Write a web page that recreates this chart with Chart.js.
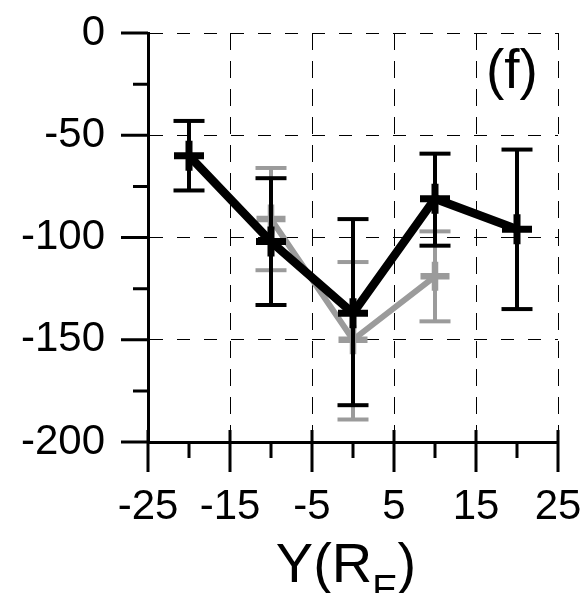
<!DOCTYPE html>
<html>
<head>
<meta charset="utf-8">
<script src="https://cdn.jsdelivr.net/npm/chart.js"></script>
<style>
  html, body { margin: 0; padding: 0; background: #fff; }
  canvas { display: block; }
</style>
</head>
<body>
<canvas id="canva" width="586" height="593"></canvas>
<script>
// positions along Y (R_E)
const xBlack = [-20, -10, 0, 10, 20];
const yBlack = [-60, -102, -137, -81, -96];
const blackHi = [-43, -71, -91, -59, -57];
const blackLo = [-77, -133, -182, -104, -135];

const xGray = [-10, 0, 10];
const yGray = [-91, -150, -119];
const grayHi = [-66, -112, -97];
const grayLo = [-116, -189, -141];

const xTicks = [-25, -15, -5, 5, 15, 25];
const yTicks = [0, -50, -100, -150, -200];

const BLACK = "#000000";
const GRAY = "#9b9b9b";
const FONT = "'Liberation Sans', Arial, sans-serif";

function pts(xs, ys) {
  return xs.map((x, i) => ({ x: x, y: ys[i] }));
}

function errorSets(xs, lo, hi, color, order) {
  return xs.map((x, i) => ({
    data: [{ x: x, y: lo[i] }, { x: x, y: hi[i] }],
    showLine: true,
    borderColor: color,
    borderWidth: 4,
    borderCapStyle: "butt",
    pointStyle: "line",
    pointRadius: 15.5,
    pointBorderWidth: 4,
    pointBorderColor: color,
    pointBackgroundColor: color,
    order: order,
  }));
}

// extra drawing: tick marks (major + minor), panel tag and axis title
const decor = {
  id: "decor",
  afterDraw(chart) {
    const ctx = chart.ctx;
    const xs = chart.scales.x;
    const ys = chart.scales.y;
    const a = chart.chartArea;
    ctx.save();
    ctx.strokeStyle = BLACK;
    ctx.lineWidth = 3;
    ctx.lineCap = "butt";
    ctx.beginPath();
    for (let v = -200; v <= 0; v += 25) {
      const py = ys.getPixelForValue(v);
      const len = v % 50 === 0 ? 27 : 15;
      ctx.moveTo(a.left - len, py);
      ctx.lineTo(a.left, py);
    }
    for (let v = -25; v <= 25; v += 5) {
      const px = xs.getPixelForValue(v);
      if ((v + 25) % 10 === 0) {
        ctx.moveTo(px, a.bottom - 12);
        ctx.lineTo(px, a.bottom + 30);
      } else {
        ctx.moveTo(px, a.bottom);
        ctx.lineTo(px, a.bottom + 16);
      }
    }
    ctx.stroke();

    ctx.fillStyle = BLACK;
    ctx.textBaseline = "alphabetic";
    ctx.textAlign = "left";
    ctx.font = "55px " + FONT;
    ctx.fillText("(f)", 486, 88);

    // Y(R_E)
    const big = "56px " + FONT;
    const small = "38px " + FONT;
    ctx.font = big;
    const w1 = ctx.measureText("Y(R").width;
    const w3 = ctx.measureText(")").width;
    ctx.font = small;
    const w2 = ctx.measureText("E").width;
    let x0 = 346 - (w1 + w2 + w3) / 2;
    const base = 582;
    ctx.font = big;
    ctx.fillText("Y(R", x0, base);
    ctx.font = small;
    ctx.fillText("E", x0 + w1, base + 20);
    ctx.font = big;
    ctx.fillText(")", x0 + w1 + w2, base);
    ctx.restore();
  },
};

const datasets = [
  {
    data: pts(xBlack, yBlack),
    showLine: true,
    borderColor: BLACK,
    borderWidth: 8.5,
    borderJoinStyle: "miter",
    pointStyle: "cross",
    pointRadius: 15,
    pointBorderWidth: 7,
    pointBorderColor: BLACK,
    order: 0,
  },
  ...errorSets(xBlack, blackLo, blackHi, BLACK, 1),
  {
    data: pts(xGray, yGray),
    showLine: true,
    borderColor: GRAY,
    borderWidth: 6,
    borderJoinStyle: "miter",
    pointStyle: "cross",
    pointRadius: 14.5,
    pointBorderWidth: 6.5,
    pointBorderColor: GRAY,
    order: 2,
  },
  ...errorSets(xGray, grayLo, grayHi, GRAY, 3),
];

const config = {
  type: "scatter",
  data: { datasets: datasets },
  options: {
    responsive: false,
    animation: false,
    events: [],
    layout: { autoPadding: false, padding: { left: 21, right: 28, top: 33, bottom: 61 } },
    plugins: {
      legend: { display: false },
      tooltip: { enabled: false },
    },
    scales: {
      x: {
        type: "linear",
        min: -25,
        max: 25,
        afterBuildTicks: (s) => { s.ticks = xTicks.map((v) => ({ value: v })); },
        afterFit: (s) => { s.height = 90; s.paddingLeft = 0; s.paddingRight = 0; },
        ticks: {
          padding: 40,
          color: BLACK,
          font: { family: FONT, size: 42 },
          maxRotation: 0,
        },
        grid: {
          drawTicks: false,
          color: BLACK,
          lineWidth: 1,
        },
        border: { display: true, color: BLACK, width: 3, dash: [17, 11] },
      },
      y: {
        min: -200,
        max: 0,
        afterBuildTicks: (s) => { s.ticks = yTicks.map((v) => ({ value: v })); },
        afterFit: (s) => { s.width = 127; s.paddingTop = 0; s.paddingBottom = 0; },
        ticks: {
          padding: 43,
          color: BLACK,
          font: { family: FONT, size: 42 },
        },
        grid: {
          drawTicks: false,
          color: BLACK,
          lineWidth: 1,
        },
        border: { display: true, color: BLACK, width: 3, dash: [13, 14] },
      },
    },
  },
  plugins: [decor],
};

const myChart = new Chart(document.getElementById("canva"), config);
</script>
</body>
</html>
